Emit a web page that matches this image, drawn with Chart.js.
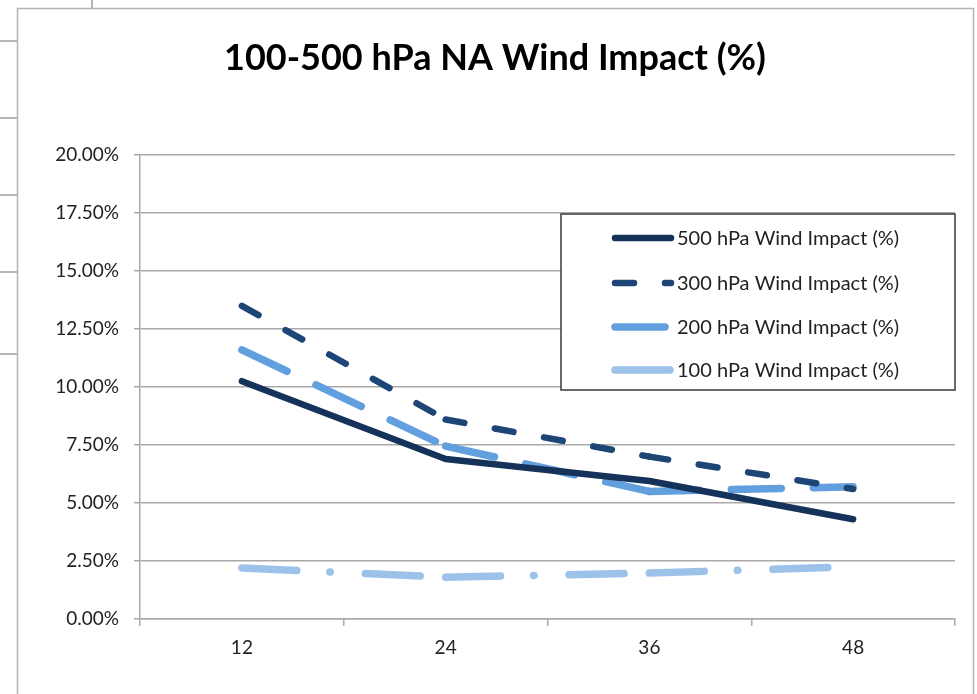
<!DOCTYPE html>
<html>
<head>
<meta charset="utf-8">
<script src="https://cdn.jsdelivr.net/npm/chart.js@4"></script>
<style>
  html, body { margin: 0; padding: 0; background: #fff; }
  canvas { display: block; }
</style>
</head>
<body>
<canvas id="windChart" width="977" height="694"></canvas>
<script>
const hours = ['12', '24', '36', '48'];
const wind500 = [10.25, 6.9, 5.95, 4.3];
const wind300 = [13.5, 8.6, 7.0, 5.6];
const wind200 = [11.6, 7.45, 5.5, 5.7];
const wind100 = [2.2, 1.8, 1.98, 2.25];
const seriesNames = [
    '500 hPa Wind Impact (%)',
    '300 hPa Wind Impact (%)',
    '200 hPa Wind Impact (%)',
    '100 hPa Wind Impact (%)'
];
const chartTitle = '100-500 hPa NA Wind Impact (%)';
const yMin = 0, yMax = 20, yStep = 2.5;

const FONT = 'Lato, "Open Sans", sans-serif';
const GRID = '#a9a9a9';

// restart the dash pattern at every point, like the spreadsheet does
const restartDash = { borderDashOffset: c => c.p0DataIndex * 0.01 };

function lineSet(label, data, color, width, dash) {
    return {
        label: label,
        data: data,
        borderColor: color,
        borderWidth: width,
        borderDash: dash,
        borderCapStyle: 'round',
        borderJoinStyle: 'round',
        pointRadius: 0,
        fill: false,
        tension: 0,
        segment: dash.length ? restartDash : undefined
    };
}

// sheet cell lines behind the chart, the chart frame and the title
const frame = {
    id: 'frame',
    beforeDraw(chart) {
        const ctx = chart.ctx;
        ctx.save();
        ctx.fillStyle = '#fff';
        ctx.fillRect(0, 0, chart.width, chart.height);
        ctx.strokeStyle = '#a0a0a0';
        ctx.lineWidth = 1.5;
        ctx.beginPath();
        [41, 118, 195, 272, 354].forEach(y => { ctx.moveTo(0, y); ctx.lineTo(17, y); });
        ctx.moveTo(92, 0); ctx.lineTo(92, 8);
        ctx.stroke();
        ctx.strokeStyle = '#b4b4b4';
        ctx.strokeRect(17.5, 8.5, 956, 700);

        ctx.fillStyle = '#000';
        ctx.font = 'bold 36px ' + FONT;
        ctx.textAlign = 'center';
        ctx.textBaseline = 'middle';
        ctx.fillText(chartTitle, 495, 58);
        ctx.restore();
    }
};

// boxed legend inside the plot
const boxLegend = {
    id: 'boxLegend',
    afterDraw(chart) {
        const ctx = chart.ctx;
        ctx.save();
        ctx.fillStyle = '#fff';
        ctx.fillRect(561, 214, 394, 176);
        ctx.strokeStyle = '#3a3a3a';
        ctx.lineWidth = 1.5;
        ctx.strokeRect(561, 214, 394, 176);
        const rows = [238, 283, 327, 370];
        chart.data.datasets.forEach((ds, i) => {
            const y = rows[i];
            ctx.strokeStyle = ds.borderColor;
            ctx.lineWidth = ds.borderWidth;
            ctx.lineCap = 'round';
            ctx.setLineDash(ds.borderDash);
            ctx.lineDashOffset = 0;
            ctx.beginPath();
            ctx.moveTo(615, y);
            ctx.lineTo(671, y);
            ctx.stroke();
            ctx.setLineDash([]);
            ctx.fillStyle = '#222';
            ctx.font = '20px ' + FONT;
            ctx.textBaseline = 'middle';
            ctx.fillText(ds.label, 677, y + 1);
        });
        ctx.restore();
    }
};

new Chart(document.getElementById('windChart'), {
    type: 'line',
    data: {
        labels: hours,
        datasets: [
            lineSet(seriesNames[0], wind500, '#15325a', 6.5, []),
            lineSet(seriesNames[1], wind300, '#1d4677', 6.5, [19, 31]),
            lineSet(seriesNames[2], wind200, '#629fde', 7.5, [50, 32]),
            lineSet(seriesNames[3], wind100, '#9cc2ea', 7.5, [55, 33, 0.5, 35])
        ]
    },
    options: {
        responsive: false,
        animation: false,
        layout: { padding: { left: 17, right: 22, top: 155, bottom: 0 } },
        plugins: {
            legend: { display: false },
            tooltip: { enabled: false },
            title: { display: false }
        },
        scales: {
            x: {
                offset: true,
                grid: {
                    offset: true,
                    drawOnChartArea: false,
                    drawTicks: true,
                    tickLength: 7,
                    color: GRID,
                    lineWidth: 1.5
                },
                border: { color: GRID, width: 1.5 },
                ticks: { color: '#222', font: { family: FONT, size: 19 }, padding: 10 },
                afterFit(scale) { scale.height = 75; }
            },
            y: {
                min: yMin,
                max: yMax,
                grid: { color: GRID, lineWidth: 1.5, tickLength: 6 },
                border: { color: GRID, width: 1.5 },
                ticks: {
                    stepSize: yStep,
                    color: '#222',
                    font: { family: FONT, size: 19 },
                    padding: 15,
                    callback: v => v.toFixed(2) + '%'
                },
                afterFit(scale) { scale.width = 123; }
            }
        }
    },
    plugins: [frame, boxLegend]
});
</script>
</body>
</html>
